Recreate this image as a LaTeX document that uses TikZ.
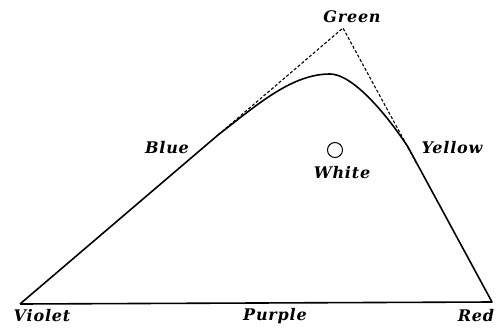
\documentclass[tikz,border=0pt]{standalone}
\usepackage{fontspec}
\newfontfamily\lblfont[LetterSpace=5]{DejaVu Serif}
\begin{document}
\begin{tikzpicture}[x=1pt,y=-1pt,
  lbl/.style={font=\lblfont\fontsize{16}{18}\selectfont\bfseries\itshape, inner sep=0pt},
  edge/.style={line width=1.6pt, line join=round},
  tang/.style={line width=1.1pt, dash pattern=on 3pt off 2pt}]
\useasboundingbox (0,0) rectangle (501,327);
\coordinate (V) at (20,304);
\coordinate (R) at (492,302);
\coordinate (G) at (343,28);
\coordinate (B) at (218,135);
\coordinate (Y) at (418,166);
\coordinate (E) at (408,147);
\coordinate (P) at (330,74);
\draw[tang] (B) -- (G) -- (Y);
\draw[edge] (V) -- (B) .. controls (258,104) and (292,74) .. (P)
  .. controls (352,74) and (385,112) .. (E) -- (R) -- (V);
\node[draw, circle, line width=1pt, minimum size=15pt, inner sep=0pt] (W) at (335,150) {};
\node[lbl] (lG) at (352,17) {Green};
\node[lbl] (lB) at (167,148) {Blue};
\node[lbl] (lY) at (452,148) {Yellow};
\node[lbl] (lW) at (342,173) {White};
\node[lbl] (lV) at (42,316) {Violet};
\node[lbl] (lP) at (275,316) {Purple};
\node[lbl] (lR) at (476,316) {Red};
\end{tikzpicture}
\end{document}
